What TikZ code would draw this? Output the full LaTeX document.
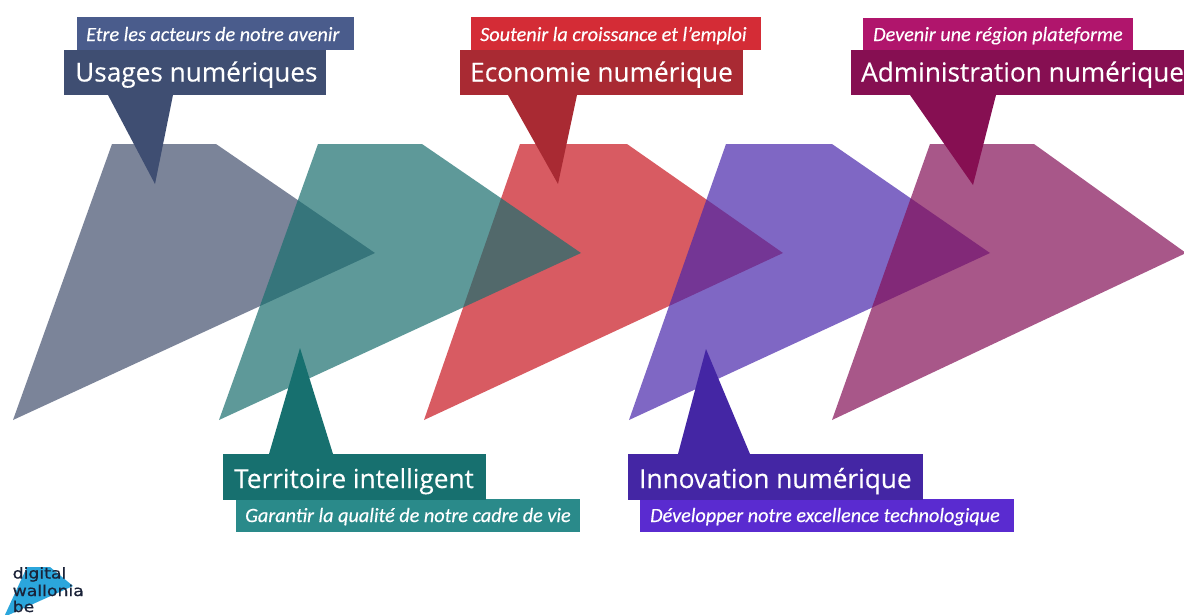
\documentclass[tikz,border=0pt]{standalone}
\usepackage{fontspec}
\setmainfont{Open Sans}[FakeBold=0.25]
\newfontfamily\subfont{Carlito}[FakeBold=0.3,ItalicFeatures={FakeBold=0.3}]
\newfontfamily\logofont{DejaVu Sans}[FakeStretch=1.15,FakeBold=0.8]
\definecolor{arrA}{HTML}{44506F}
\definecolor{arrB}{HTML}{1A6F6F}
\definecolor{arrC}{HTML}{C81620}
\definecolor{arrD}{HTML}{4A27AB}
\definecolor{arrE}{HTML}{841058}
\definecolor{titA}{HTML}{3F4E72}
\definecolor{titB}{HTML}{17706F}
\definecolor{titC}{HTML}{A92A33}
\definecolor{titD}{HTML}{4426A4}
\definecolor{titE}{HTML}{860F52}
\definecolor{subA}{HTML}{4A5C8C}
\definecolor{subB}{HTML}{2A8A8A}
\definecolor{subC}{HTML}{D42C36}
\definecolor{subD}{HTML}{5A2BD0}
\definecolor{subE}{HTML}{B0156C}
\definecolor{logoblue}{HTML}{2BA6DC}
\definecolor{logoink}{HTML}{1A2238}
\tikzset{
  x=1pt,y=-1pt,
  bigarrow/.style={fill opacity=.7,draw=none},
  titletext/.style={text=white,font=\fontsize{26.2}{28}\selectfont,inner sep=0pt,anchor=base west},
  subtext/.style={text=white,font=\subfont\itshape\fontsize{20.2}{22}\selectfont,inner sep=0pt,anchor=base west},
  logotext/.style={text=logoink,font=\logofont\fontsize{15}{15}\selectfont,inner sep=0pt,anchor=base west},
}
\begin{document}
\begin{tikzpicture}
\useasboundingbox (0,0) rectangle (1184,614);
\clip (0,0) rectangle (1184,614);
\fill[white] (0,0) rectangle (1184,614);
% large arrows
\fill[arrA,bigarrow] (112,144) -- (216,144) -- (375,253) -- (13,420) -- cycle;
\fill[arrC,bigarrow] (520,144) -- (627,144) -- (783,253) -- (424,420) -- cycle;
\fill[arrB,bigarrow] (318,144) -- (422,144) -- (581,253) -- (219,420) -- cycle;
\fill[arrD,bigarrow] (726,144) -- (832,144) -- (990,253) -- (629,420) -- cycle;
\fill[arrE,bigarrow] (930,144) -- (1034,144) -- (1186,253) -- (832,420) -- cycle;
% Usages
\fill[subA] (76.5,17) rectangle (354,49.5);
\fill[titA] (64,49.5) rectangle (326,95);
\fill[titA] (108,95) -- (173,95) -- (155,184) -- cycle;
\node[subtext] (subusages) at (86,41) {Etre les acteurs de notre avenir};
\node[titletext] (usages) at (75,81.5) {Usages numériques};
% Territoire
\fill[subB] (236,499) rectangle (580,532);
\fill[titB] (223,454) rectangle (486,499.5);
\fill[titB] (269,454) -- (333,454) -- (300,348) -- cycle;
\node[subtext] (subterr) at (245,522) {Garantir la qualité de notre cadre de vie};
\node[titletext] (terr) at (234,488) {Territoire intelligent};
% Economie
\fill[subC] (471,17) rectangle (761,49.5);
\fill[titC] (460,49.5) rectangle (743,95);
\fill[titC] (508,95) -- (577,95) -- (558,184) -- cycle;
\node[subtext] (subecon) at (480,41) {Soutenir la croissance et l’emploi};
\node[titletext] (econ) at (470,81.5) {Economie numérique};
% Innovation
\fill[subD] (640,499) rectangle (1014,532);
\fill[titD] (628,454) rectangle (923,499.5);
\fill[titD] (678,454) -- (750,454) -- (706,349) -- cycle;
\node[subtext] (subinno) at (650,522) {Développer notre excellence technologique};
\node[titletext] (inno) at (639,488) {Innovation numérique};
% Administration
\fill[subE] (863,18) rectangle (1133,49.5);
\fill[titE] (851,49.5) rectangle (1190,95);
\fill[titE] (910,95) -- (996,95) -- (973,185) -- cycle;
\node[subtext] (subadmin) at (873,41) {Devenir une région plateforme};
\node[titletext] (admin) at (861,81.5) {Administration numérique};
% logo
\fill[logoblue] (27,567) -- (50,567) -- (73,586) -- (4,617) -- cycle;
\node[logotext] (logoA) at (12.5,578.5) {digital};
\node[logotext] (logoB) at (12.5,596) {wallonia};
\node[logotext] (logoC) at (12.5,612) {be};
\end{tikzpicture}
\end{document}
